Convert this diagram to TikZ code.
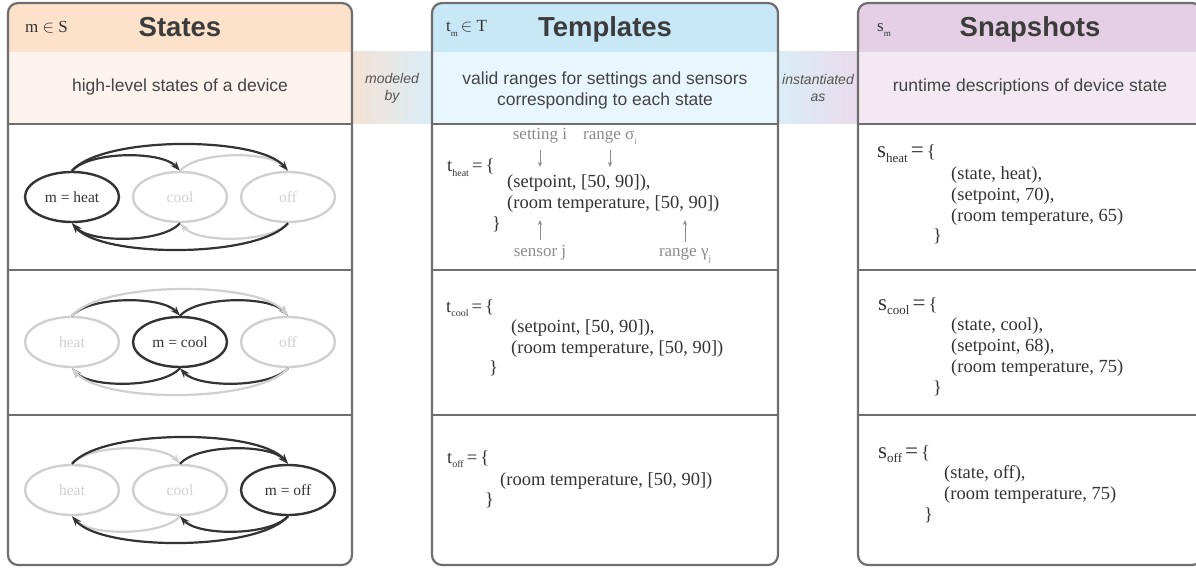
\documentclass[tikz,border=0pt]{standalone}
\usepackage{fontspec}
\setmainfont{Liberation Serif}
\setsansfont{Liberation Sans}
\usetikzlibrary{shapes.geometric,arrows.meta}

\definecolor{frame}{HTML}{6E6E6E}
\definecolor{ink}{HTML}{333333}
\definecolor{faint}{HTML}{D0D0D0}
\definecolor{hintgray}{HTML}{8A8A8A}
\definecolor{titlegray}{HTML}{3C3C3C}
\definecolor{blurbgray}{HTML}{444444}
\definecolor{verbgray}{HTML}{555555}
\definecolor{stHead}{HTML}{FCE1CB}
\definecolor{stSub}{HTML}{FDF3EE}
\definecolor{tpHead}{HTML}{C8E8F8}
\definecolor{tpSub}{HTML}{E8F6FD}
\definecolor{snHead}{HTML}{E5CFE4}
\definecolor{snSub}{HTML}{F3E9F3}
\definecolor{bandA}{HTML}{F4E2D6}
\definecolor{bandB}{HTML}{DAEDF7}
\definecolor{bandC}{HTML}{EADBEB}

\newcommand{\low}[2][10]{\raisebox{-0.25em}{\fontsize{#1}{#1}\selectfont #2}}
\newcommand{\tname}[1]{t\low{#1}\,=\,\{}
\newcommand{\sname}[1]{{\fontsize{23}{23}\selectfont s}\low[13]{#1}\,{\fontsize{23}{23}\selectfont =}\,\{}

\begin{document}
\begin{tikzpicture}[x=1pt, y=-1pt,
  panel/.style={draw=frame, line width=2.2pt, rounded corners=10pt},
  rule/.style={draw=frame, line width=1.8pt},
  title/.style={font=\sffamily\bfseries\fontsize{27.5}{27.5}\selectfont, text=titlegray, anchor=base},
  blurb/.style={font=\sffamily\fontsize{17.5}{21}\selectfont, text=blurbgray, align=center},
  verb/.style={font=\sffamily\itshape\fontsize{14}{17}\selectfont, text=verbgray, align=center},
  tag/.style={font=\fontsize{17}{17}\selectfont, text=ink, anchor=base west, inner sep=0pt},
  state/.style={ellipse, minimum width=94pt, minimum height=50pt, inner sep=0pt, line width=2.4pt, font=\fontsize{15.5}{15.5}\selectfont},
  lit/.style={draw=ink, text=ink},
  dim/.style={draw=faint, text=faint},
  move/.style={line width=2.2pt, -{Stealth[length=10pt,width=7pt]}},
  code/.style={font=\fontsize{18.5}{18.5}\selectfont, text=ink, anchor=base west, inner sep=0pt},
  hint/.style={font=\fontsize{17}{17}\selectfont, text=hintgray, anchor=base, inner sep=0pt},
  pointer/.style={draw=hintgray, line width=0.8pt, shorten <=6pt, -{Stealth[length=5pt,width=4pt]}}]
\useasboundingbox (0,0) rectangle (1196,569);
\clip (0,0) rectangle (1196,569);

\shade[left color=bandA, right color=bandB] (352,52) rectangle (432,124);
\shade[left color=bandB, right color=bandC] (778,52) rectangle (858,124);

\foreach \x/\w/\hd/\sb in {8/344/stHead/stSub, 432/346/tpHead/tpSub, 858/344/snHead/snSub} {
  \begin{scope}
    \clip[rounded corners=10pt] (\x,3) rectangle ++(\w,562);
    \fill[fill=\hd] (\x,3) rectangle ++(\w,49);
    \fill[fill=\sb] (\x,52) rectangle ++(\w,72);
  \end{scope}
  \foreach \y in {124, 270, 415}
    \draw[rule] (\x,\y) -- ++(\w,0);
  \draw[panel] (\x,3) rectangle ++(\w,562);
}

\node[title] (stTitle) at (180,37) {States};
\node[title] (tpTitle) at (605,37) {Templates};
\node[title] (snTitle) at (1030,37) {Snapshots};
\node[tag] (stTag) at (25,33) {m $\in$ S};
\node[tag] (tpTag) at (446,32) {t\low[9]{m}\,$\in$ T};
\node[tag] (snTag) at (877,32) {s\low[9]{m}};

\node[blurb, anchor=base] (stBlurb) at (180,92) {high-level states of a device};
\node[blurb] (tpBlurb) at (605,90) {valid ranges for settings and sensors\\corresponding to each state};
\node[blurb, anchor=base] (snBlurb) at (1030,92) {runtime descriptions of device state};
\node[verb] (modeled) at (392,88) {modeled\\by};
\node[verb] (instantiated) at (818,88) {instantiated\\as};

\foreach \r/\y/\hs/\cs/\os/\hl/\cl/\ol/\hc/\ho/\co in {
    1/197/lit/dim/dim/{m = heat}/cool/off/lit/lit/dim,
    2/342/dim/lit/dim/heat/{m = cool}/off/lit/dim/lit,
    3/490/dim/dim/lit/heat/cool/{m = off}/dim/lit/lit} {
  \node[state, \hs] (h\r) at (72,\y) {\hl};
  \node[state, \cs] (c\r) at (180,\y) {\cl};
  \node[state, \os] (o\r) at (288,\y) {\ol};
  \draw[move, \hc] (h\r.north) .. controls +(18,-20) and +(-18,-20) .. (c\r.north);
  \draw[move, \co] (c\r.north) .. controls +(18,-20) and +(-18,-20) .. (o\r.north);
  \draw[move, \ho] (h\r.north) .. controls +(30,-35) and +(-30,-35) .. (o\r.north);
  \draw[move, \hc] (c\r.south) .. controls +(-18,20) and +(18,20) .. (h\r.south);
  \draw[move, \co] (o\r.south) .. controls +(-18,20) and +(18,20) .. (c\r.south);
  \draw[move, \ho] (o\r.south) .. controls +(-30,35) and +(30,35) .. (h\r.south);
}

\node[code] (tHeat) at (447,172) {\tname{heat}};
\node[code] (tHeatA) at (507,188) {(setpoint, [50, 90]),};
\node[code] (tHeatB) at (507,209) {(room temperature, [50, 90])};
\node[code] (tHeatEnd) at (492,230) {\}};
\node[hint] (setName) at (540,140) {setting i};
\node[hint] (setRange) at (610,140) {range σ\low[9]{i}};
\node[hint] (sensorName) at (540,257) {sensor j};
\node[hint] (sensorRange) at (685,257) {range γ\low[9]{j}};
\coordinate (setNameTip) at (540,167);
\coordinate (setRangeTip) at (610,167);
\coordinate (sensorNameTip) at (540,220);
\coordinate (sensorRangeTip) at (685,220);
\draw[pointer] (setName.south) -- (setNameTip);
\draw[pointer] (setRange.south) -- (setRangeTip);
\draw[pointer] (sensorName.north) -- (sensorNameTip);
\draw[pointer] (sensorRange.north) -- (sensorRangeTip);

\node[code] (tCool) at (446,312) {\tname{cool}};
\node[code] (tCoolA) at (511,332) {(setpoint, [50, 90]),};
\node[code] (tCoolB) at (511,353) {(room temperature, [50, 90])};
\node[code] (tCoolEnd) at (489,373) {\}};

\node[code] (tOff) at (447,463) {\tname{off}};
\node[code] (tOffA) at (500,485) {(room temperature, [50, 90])};
\node[code] (tOffEnd) at (485,505) {\}};

\node[code] (sHeat) at (877,158) {\sname{heat}};
\node[code] (sHeatA) at (951,180) {(state, heat),};
\node[code] (sHeatB) at (951,201) {(setpoint, 70),};
\node[code] (sHeatC) at (951,222) {(room temperature, 65)};
\node[code] (sHeatEnd) at (933,242) {\}};

\node[code] (sCool) at (878,310) {\sname{cool}};
\node[code] (sCoolA) at (951,330) {(state, cool),};
\node[code] (sCoolB) at (951,351) {(setpoint, 68),};
\node[code] (sCoolC) at (951,372) {(room temperature, 75)};
\node[code] (sCoolEnd) at (933,393) {\}};

\node[code] (sOff) at (878,458) {\sname{off}};
\node[code] (sOffA) at (944,478) {(state, off),};
\node[code] (sOffB) at (944,499) {(room temperature, 75)};
\node[code] (sOffEnd) at (924,520) {\}};
\end{tikzpicture}
\end{document}
